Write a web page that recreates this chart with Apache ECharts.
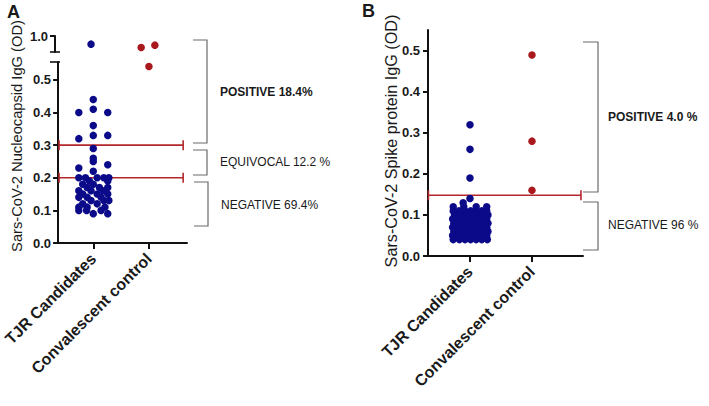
<!DOCTYPE html>
<html><head><meta charset="utf-8">
<script src="https://cdn.jsdelivr.net/npm/echarts@6/dist/echarts.min.js"></script>
<style>html,body{margin:0;padding:0;background:#fff}#c{width:709px;height:406px}</style>
</head><body><div id="c"></div>
<script>
// ---------- data ----------
const categories = ['TJR Candidates', 'Convalescent control'];

// Panel A: Nucleocapsid IgG (OD)
const nucleoTJR = [0.975, 0.44, 0.41, 0.40, 0.40, 0.36, 0.33, 0.33, 0.32,
  0.29, 0.26, 0.25, 0.24, 0.23, 0.22,
  0.20, 0.20, 0.20, 0.20, 0.20, 0.19, 0.19, 0.18, 0.18, 0.17, 0.17, 0.17,
  0.16, 0.16, 0.16, 0.15, 0.15, 0.15, 0.14, 0.14, 0.14, 0.13, 0.13, 0.13,
  0.12, 0.12, 0.11, 0.11, 0.11, 0.10, 0.10, 0.10, 0.09, 0.09];
const nucleoTJRJitter = [0, 0, 0, -0.26, 0.26, 0, 0, 0.26, -0.26,
  0, 0, 0, 0.26, -0.26, 0,
  -0.26, -0.14, 0.07, 0.19, 0.28, -0.07, 0.26, -0.19, 0, -0.11, 0.11, 0.26,
  -0.26, -0.04, 0.18, -0.19, 0.07, 0.26, -0.26, -0.11, 0.14, -0.04, 0.19, 0.28,
  -0.19, 0.07, -0.26, -0.11, 0.21, -0.26, -0.12, 0.14, 0, 0.26];
const nucleoConv = [0.965, 0.972, 0.541];
const nucleoConvJitter = [-0.12, 0.12, 0];
const nucleoCutoffs = [0.2, 0.3];
const nucleoTicks = [0.0, 0.1, 0.2, 0.3, 0.4, 0.5];
const nucleoBreakTicks = [1.0];

// Panel B: Spike protein IgG (OD)
const spikeTJR = [0.32, 0.26, 0.19, 0.14, 0.13,
  0.12, 0.12, 0.12, 0.12,
  0.11, 0.11, 0.11, 0.11, 0.11, 0.11, 0.11,
  0.10, 0.10, 0.10, 0.10, 0.10, 0.10, 0.10,
  0.09, 0.09, 0.09, 0.09, 0.09, 0.09, 0.09,
  0.08, 0.08, 0.08, 0.08, 0.08, 0.08, 0.08,
  0.07, 0.07, 0.07, 0.07, 0.07, 0.07, 0.07,
  0.06, 0.06, 0.06, 0.06, 0.06, 0.06, 0.06,
  0.05, 0.05, 0.05, 0.05, 0.05, 0.05, 0.05,
  0.04, 0.04, 0.04, 0.04, 0.04, 0.04, 0.04];
const spikeTJRJitter = [0, 0, 0, 0, -0.11,
  -0.27, -0.1, 0.1, 0.27,
  -0.27, -0.18, -0.08, 0.01, 0.1, 0.19, 0.27,
  -0.25, -0.16, -0.06, 0.04, 0.13, 0.22, 0.29,
  -0.28, -0.19, -0.1, 0, 0.09, 0.18, 0.27,
  -0.26, -0.16, -0.06, 0.03, 0.12, 0.21, 0.29,
  -0.28, -0.18, -0.09, 0.01, 0.1, 0.19, 0.27,
  -0.26, -0.17, -0.07, 0.03, 0.12, 0.21, 0.29,
  -0.28, -0.18, -0.09, 0, 0.09, 0.18, 0.27,
  -0.27, -0.17, -0.08, 0.01, 0.1, 0.19, 0.28];
const spikeConv = [0.49, 0.28, 0.16];
const spikeConvJitter = [0, 0, 0];
const spikeCutoffs = [0.148];
const spikeTicks = [0.0, 0.1, 0.2, 0.3, 0.4, 0.5];

// ---------- styles ----------
const FONT = '"Liberation Sans", Arial, Helvetica, sans-serif';
const BLUE = '#0b0b8a';
const RED = '#a8181c';
const CUT = '#b3282c';
const BRK = '#6a6a6a';

const pts = (vals, jit, idx, filt) => vals.map((v, i) => [idx + jit[i], v]).filter(p => filt(p[1]));

function xAx(grid, min, max, show) {
  return {
    gridIndex: grid, type: 'value', min: min, max: max, show: show,
    splitLine: { show: false },
    axisLine: { show: true, onZero: false, lineStyle: { color: '#111', width: 2 } },
    axisTick: { show: true, customValues: [0, 1], length: 6, lineStyle: { color: '#111', width: 2 } },
    axisLabel: {
      customValues: [0, 1], formatter: v => categories[Math.round(v)] || '',
      rotate: 45, margin: 13, fontSize: 16, fontWeight: 'bold', color: '#1a1a1a', fontFamily: FONT
    }
  };
}
function yAx(grid, min, max, ticks, margin) {
  return {
    gridIndex: grid, type: 'value', min: min, max: max,
    splitLine: { show: false },
    axisLine: { show: true, onZero: false, lineStyle: { color: '#111', width: 2 } },
    axisTick: { show: true, customValues: ticks, length: 5, lineStyle: { color: '#111', width: 2 } },
    axisLabel: {
      customValues: ticks, formatter: v => v.toFixed(1), margin: margin,
      fontSize: 13, fontWeight: 'bold', color: '#1a1a1a', fontFamily: FONT
    }
  };
}
function dots(xi, yi, data, color) {
  return { type: 'scatter', xAxisIndex: xi, yAxisIndex: yi, data: data, symbol: 'circle', symbolSize: 7.5,
    itemStyle: { color: color, opacity: 1 }, z: 5, silent: true };
}
function cut(xi, yi, v, x0, x1) {
  return { type: 'line', xAxisIndex: xi, yAxisIndex: yi, data: [[x0, v], [x1, v]],
    symbol: 'rect', symbolSize: [1.6, 10], showSymbol: true,
    itemStyle: { color: CUT }, lineStyle: { color: CUT, width: 1.6 }, z: 3, silent: true, animation: false };
}

const AX = [-0.632, 1.684];
const BX = [-0.677, 1.823];

const series = [
  dots(0, 0, pts(nucleoTJR, nucleoTJRJitter, 0, v => v >= 0.9), BLUE),
  dots(1, 1, pts(nucleoTJR, nucleoTJRJitter, 0, v => v < 0.9), BLUE),
  dots(0, 0, pts(nucleoConv, nucleoConvJitter, 1, v => v >= 0.9), RED),
  dots(1, 1, pts(nucleoConv, nucleoConvJitter, 1, v => v < 0.9), RED),
  dots(2, 2, pts(spikeTJR, spikeTJRJitter, 0, v => true), BLUE),
  dots(2, 2, pts(spikeConv, spikeConvJitter, 1, v => true), RED)
];
nucleoCutoffs.forEach(c => series.push(cut(1, 1, c, -0.615, 1.615)));
spikeCutoffs.forEach(c => series.push(cut(2, 2, c, -0.67, 1.79)));

function bracket(x0, x1, y0, y1) {
  return { type: 'polyline', silent: true, shape: { points: [[x0, y0], [x1, y0], [x1, y1], [x0, y1]] },
    style: { stroke: BRK, lineWidth: 1.2, fill: null } };
}
function label(x, y, text, bold, size) {
  return { type: 'text', x: x, y: y, silent: true,
    style: { text: text, fill: '#1a1a1a', font: (bold ? 'bold ' : '') + size + 'px ' + FONT,
      textAlign: 'left', textVerticalAlign: 'middle' } };
}
function vname(x, y, text, size) {
  return { type: 'text', x: x, y: y, rotation: Math.PI / 2, silent: true,
    style: { text: text, fill: '#1a1a1a', font: size + 'px ' + FONT, textAlign: 'center', textVerticalAlign: 'middle' } };
}
function hline(x0, x1, y) {
  return { type: 'line', silent: true, shape: { x1: x0, y1: y, x2: x1, y2: y }, style: { stroke: '#111', lineWidth: 1.6 } };
}

const chart = echarts.init(document.getElementById('c'), null, { renderer: 'svg' });
chart.setOption({
  animation: false,
  backgroundColor: '#fff',
  grid: [
    { left: 55, top: 36, width: 132, height: 16 },
    { left: 55, top: 62, width: 132, height: 181 },
    { left: 428, top: 30, width: 155, height: 226 }
  ],
  xAxis: [
    xAx(0, AX[0], AX[1], false),
    xAx(1, AX[0], AX[1], true),
    xAx(2, BX[0], BX[1], true)
  ],
  yAxis: [
    yAx(0, 0.951, 1.0, nucleoBreakTicks, 7),
    yAx(1, 0, 0.555, nucleoTicks, 7),
    yAx(2, 0, 0.551, spikeTicks, 8)
  ],
  series: series,
  graphic: [
    label(7, 12, 'A', true, 18),
    label(362, 11, 'B', true, 18),
    vname(17, 136, 'Sars-CoV-2 Nucleocapsid IgG (OD)', 14.7),
    vname(391, 141, 'Sars-CoV-2 Spike protein IgG (OD)', 16.2),
    hline(50, 60, 52),
    hline(50, 60, 62),
    bracket(193, 207, 40, 143),
    bracket(193, 207, 150, 175),
    bracket(194, 208, 182, 226),
    label(220, 92, 'POSITIVE 18.4%', true, 12),
    label(220, 162, 'EQUIVOCAL 12.2 %', false, 12),
    label(221, 205, 'NEGATIVE 69.4%', false, 12),
    bracket(583, 598, 42, 192),
    bracket(583, 598, 202, 250),
    label(608, 117, 'POSITIVE 4.0 %', true, 12),
    label(608, 225, 'NEGATIVE 96 %', false, 12)
  ]
});
</script></body></html>
